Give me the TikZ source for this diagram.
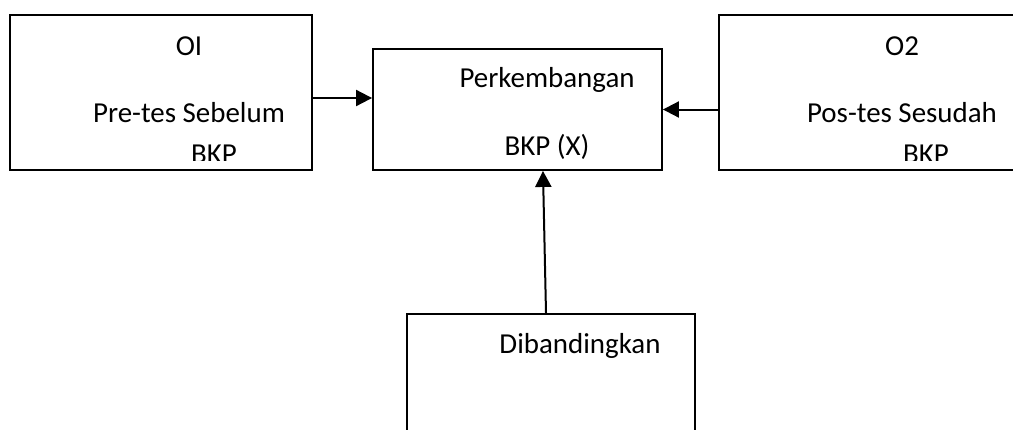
\documentclass[tikz,border=0pt]{standalone}
\usepackage{fontspec}
\setmainfont{Carlito}
\usetikzlibrary{arrows.meta}
\tikzset{
  box/.style = {draw=black, line width=1.4pt, inner sep=0pt},% kotak
  lbl/.style = {inner sep=0pt, anchor=base,
    font=\fontsize{21.7}{25}\selectfont},% teks dalam kotak
}

\begin{document}
\begin{tikzpicture}[x=0.75pt,y=-0.75pt,->,>={Triangle[length=12pt,width=12pt]}]
\useasboundingbox (0,0) rectangle (1013,429);
\node [box, minimum width=226.5pt, minimum height=116.25pt] (pre) at (161,92.5) {};
\node [box, minimum width=216.75pt, minimum height=90.75pt] (dev) at (517.5,109.5) {};
\node [box, minimum width=233.25pt, minimum height=116.25pt] (post) at (874.5,92.5) {};
\node [box, minimum width=216pt, minimum height=98.25pt] (cmp) at (551,379.5) {};

\node [lbl] (pre-a) at (189,55) {OI};
\node [lbl] (pre-t) at (189,122) {Pre-tes Sebelum};
\node [lbl] (dev-a) at (547,87) {Perkembangan};
\node [lbl] (dev-b) at (547,155) {BKP (X)};
\node [lbl] (post-a) at (902,55) {O2};
\node [lbl] (post-t) at (902,122) {Pos-tes Sesudah};
\node [lbl] (cmp-a) at (580,353) {Dibandingkan};
\begin{scope}
  \clip ([yshift=7.5pt]pre.south west) rectangle (pre.north east);
  \node [lbl] (pre-b) at (214,163) {BKP};
\end{scope}
\begin{scope}
  \clip ([yshift=7.5pt]post.south west) rectangle (post.north east);
  \node [lbl] (post-b) at (926,163) {BKP};
\end{scope}

\coordinate (y1) at (0,98);
\draw [line width=1.5pt] (pre.east |- y1) -- (dev.west |- y1);
\draw [line width=1.5pt] (post.west |- dev.east) -- (dev.east);
\draw [line width=1.5pt] ([xshift=-3.75pt]cmp.north) -- ([xshift=19.1pt]dev.south);
\end{tikzpicture}
\end{document}
